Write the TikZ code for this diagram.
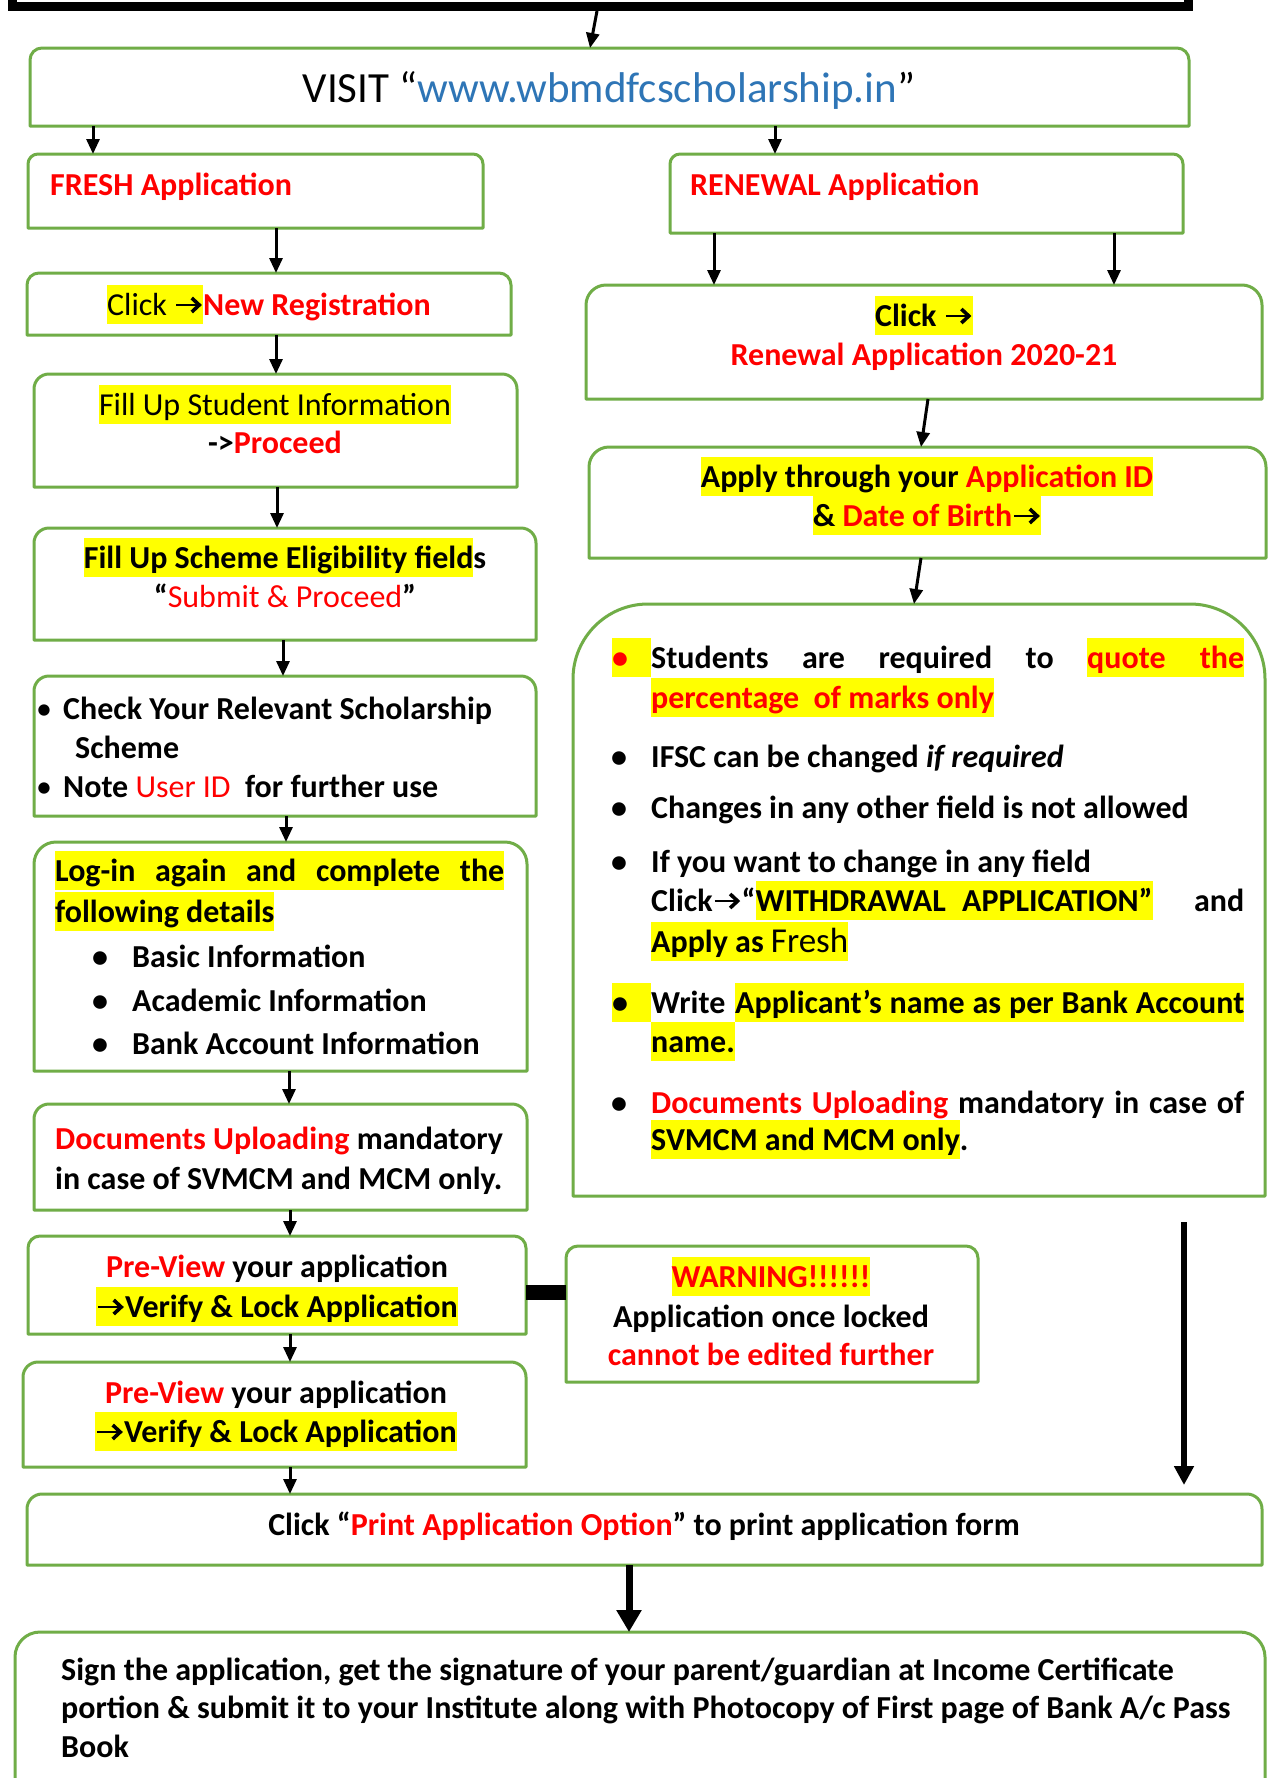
\documentclass[tikz,border=0pt]{standalone}
\usepackage{fontspec}
\setmainfont{Carlito}
\usetikzlibrary{arrows.meta,calc}
\definecolor{bgreen}{HTML}{70AD47}
\definecolor{hred}{HTML}{FF0000}
\definecolor{ublue}{HTML}{2E75B6}
\definecolor{hyel}{HTML}{FFFF00}
\newcommand\hl[1]{{\setlength{\fboxsep}{0pt}\colorbox{hyel}{\rule[-9pt]{0pt}{39pt}#1}}}
\newcommand\arr{\tikz[baseline=0pt,x=1pt,y=1pt,line cap=butt]{%
  \path (0,0) (29,0);
  \draw[line width=2.8pt] (2,10) -- (24,10);
  \draw[line width=3.6pt, line join=miter] (17.5,3) -- (25,10) -- (17.5,17);}}
\newcommand\flowbox[6]{%
  \node[boxn, minimum width={#4-#2}, minimum height={#5-#3}] (#1) at ({(#2+#4)/2},{-(#3+#5)/2}) {};
  \draw[boxline] (#1.south west) -- ([yshift=-#6pt]#1.north west)
    arc[start angle=180, end angle=90, radius=#6pt] -- ([xshift=-#6pt]#1.north east)
    arc[start angle=90, end angle=0, radius=#6pt] -- (#1.south east) -- cycle;}
\tikzset{
  boxn/.style={draw=none, inner sep=0pt, outer sep=0pt},
  boxline/.style={draw=bgreen, line width=3pt, line join=round},
  txt/.style={inner sep=0pt, anchor=base, font=\fontsize{32pt}{39pt}\selectfont\bfseries},
  txtl/.style={txt, anchor=base west},
  arrow/.style={-{Triangle[length=15pt,width=13pt]}, line width=3pt},
  bigarrow/.style={-{Triangle[length=19pt,width=19pt]}, line width=6pt},
  hugearrow/.style={-{Triangle[length=22pt,width=24pt]}, line width=7pt},
  linkbar/.style={line width=15pt},
}
\begin{document}
\begin{tikzpicture}[x=1pt,y=1pt]
\useasboundingbox (0,0) rectangle (1271,-1778);
\fill[white] (0,0) rectangle (1271,-1778);
% top frame
\node[draw=black, line width=9pt, minimum width=1176pt, minimum height=60pt, inner sep=0pt, outer sep=0pt, anchor=south] (topbox) at (600.5,-6.5) {};
% boxes
\flowbox{visit}{30}{48}{1189}{126}{12}
\flowbox{fresh}{28}{154}{483}{228}{10}
\flowbox{renew}{670}{154}{1183}{233}{10}
\flowbox{newreg}{27}{273}{511}{335}{12}
\flowbox{student}{34}{374}{517}{487}{15}
\flowbox{scheme}{34}{528}{536}{640}{15}
\flowbox{check}{34}{676}{536}{816}{15}
\flowbox{login}{34}{842}{527}{1071}{22}
\flowbox{docs}{34}{1104}{527}{1210}{15}
\flowbox{pv1}{28}{1236}{526}{1334}{12}
\flowbox{warn}{566}{1246}{978}{1382}{12}
\flowbox{pv2}{23}{1362}{526}{1467}{15}
\flowbox{print}{27}{1494}{1262}{1565}{15}
\flowbox{final}{15}{1632}{1265}{1820}{25}
\flowbox{rclick}{586}{285}{1262}{399}{20}
\flowbox{apply}{589}{447}{1266}{558}{20}
\flowbox{bigbox}{573}{604}{1265}{1196}{75}
% texts
\node[txt, font=\fontsize{43pt}{50pt}\selectfont] (tvisit) at (609,-102) {VISIT “\textcolor{ublue}{www.wbmdfcscholarship.in}”};
\node[txtl] (tfresh) at (50,-195) {\textcolor{hred}{FRESH Application}};
\node[txtl] (trenew) at (690,-195) {\textcolor{hred}{RENEWAL Application}};
\node[txt] (tnewreg) at (269,-315) {\hl{\mdseries Click \arr}\textcolor{hred}{New Registration}};
\node[txt] (tstu1) at (275,-415) {\hl{\mdseries Fill Up Student Information}};
\node[txt] (tstu2) at (275,-453) {->\textcolor{hred}{Proceed}};
\node[txt] (tsch1) at (285,-568) {\hl{Fill Up Scheme Eligibility field}s};
\node[txt] (tsch2) at (285,-607) {“\textcolor{hred}{\mdseries Submit \& Proceed}”};
\node[txt] (bc1) at (44,-719) {\mdseries •};
\node[txtl] (tc1) at (63,-719) {Check Your Relevant Scholarship};
\node[txtl] (tc2) at (75,-758) {Scheme};
\node[txt] (bc2) at (44,-797) {\mdseries •};
\node[txtl] (tc3) at (63,-797) {Note \textcolor{hred}{\mdseries User ID}\ \ for further use};
\node[txtl] (tl1) at (55,-881) {\hl{\makebox[449pt][s]{Log-in again and complete the}}};
\node[txtl] (tl2) at (55,-922) {\hl{following details}};
\node[txt] (bl1) at (100,-967) {•};
\node[txtl] (tl3) at (132,-967) {Basic Information};
\node[txt] (bl2) at (100,-1011) {•};
\node[txtl] (tl4) at (132,-1011) {Academic Information};
\node[txt] (bl3) at (100,-1054) {•};
\node[txtl] (tl5) at (132,-1054) {Bank Account Information};
\node[txtl] (td1) at (55,-1149) {\textcolor{hred}{Documents Uploading} mandatory};
\node[txtl] (td2) at (55,-1189) {in case of SVMCM and MCM only.};
\node[txt] (tp1) at (277,-1277) {\textcolor{hred}{Pre-View} your application};
\node[txt] (tp2) at (277,-1317) {\hl{\arr Verify \& Lock Application}};
\node[txt] (tq1) at (276,-1403) {\textcolor{hred}{Pre-View} your application};
\node[txt] (tq2) at (276,-1442) {\hl{\arr Verify \& Lock Application}};
\node[txt] (tw1) at (771,-1287) {\hl{\textcolor{hred}{WARNING!!!!!!}}};
\node[txt] (tw2) at (771,-1327) {Application once locked};
\node[txt] (tw3) at (771,-1365) {\textcolor{hred}{cannot be edited further}};
\node[txt] (tpr) at (644,-1535) {Click “\textcolor{hred}{Print Application Option}” to print application form};
\node[txtl] (tf1) at (61,-1680) {Sign the application, get the signature of your parent/guardian at Income Certificate};
\node[txtl] (tf2) at (61,-1718) {portion \& submit it to your Institute along with Photocopy of First page of Bank A/c Pass};
\node[txtl] (tf3) at (61,-1757) {Book};
\node[txt] (trc1) at (924,-326) {\hl{Click \arr}};
\node[txt] (trc2) at (924,-365) {\textcolor{hred}{Renewal Application 2020-21}};
\node[txt] (ta1) at (927,-487) {\hl{Apply through your \textcolor{hred}{Application ID}}};
\node[txt] (ta2) at (927,-526) {\hl{\& \textcolor{hred}{Date of Birth}\arr}};
\node[txtl] (bb1) at (612,-668) {\hl{\makebox[39pt][l]{\textcolor{hred}{•}}}};
\node[txtl] (tb1) at (651,-668) {\makebox[593pt][s]{Students are required to \hl{\makebox[157pt][s]{\textcolor{hred}{quote the}}}}};
\node[txtl] (tb2) at (651,-708) {\hl{\textcolor{hred}{percentage\ \ of marks only}}};
\node[txt] (bb2) at (619,-767) {•};
\node[txtl] (tb3) at (651,-767) {IFSC can be changed \textit{if required}};
\node[txt] (bb3) at (619,-818) {•};
\node[txtl] (tb4) at (651,-818) {Changes in any other field is not allowed};
\node[txt] (bb4) at (619,-872) {•};
\node[txtl] (tb5) at (651,-872) {If you want to change in any field};
\node[txtl] (tb6) at (651,-911) {\makebox[593pt][s]{Click\arr“\hl{\makebox[397pt][s]{WITHDRAWAL APPLICATION”}} and}};
\node[txtl] (tb7) at (651,-952) {\hl{Apply as {\mdseries\fontsize{35pt}{39pt}\selectfont Fresh}}};
\node[txtl] (bb5) at (612,-1013) {\hl{\makebox[39pt][l]{•}}};
\node[txtl] (tb8) at (651,-1013) {\makebox[593pt][s]{Write \hl{\makebox[509pt][s]{Applicant’s name as per Bank Account}}}};
\node[txtl] (tb9) at (651,-1052) {\hl{name.}};
\node[txt] (bb6) at (619,-1113) {•};
\node[txtl] (tb10) at (651,-1113) {\makebox[593pt][s]{\textcolor{hred}{Documents Uploading} mandatory in case of}};
\node[txtl] (tb11) at (651,-1150) {\hl{SVMCM and MCM only}.};
% connectors
\draw[arrow] ($(topbox.south)+(-3.5,-4.5)$) -- ($(visit.north west)+(560,0)$);
\draw[arrow] ($(visit.south west)+(63,0)$) -- ($(fresh.north west)+(65,0)$);
\draw[arrow] ($(visit.south west)+(745,0)$) -- ($(renew.north west)+(105,0)$);
\draw[arrow] ($(fresh.south west)+(248,0)$) -- ($(newreg.north west)+(249,0)$);
\draw[arrow] ($(renew.south west)+(44,0)$) -- ($(rclick.north west)+(128,0)$);
\draw[arrow] ($(renew.south west)+(444,0)$) -- ($(rclick.north west)+(528,0)$);
\draw[arrow] ($(newreg.south west)+(249,0)$) -- ($(student.north west)+(242,0)$);
\draw[arrow] ($(student.south west)+(243,0)$) -- ($(scheme.north west)+(243,0)$);
\draw[arrow] ($(scheme.south west)+(249,0)$) -- ($(check.north west)+(249,0)$);
\draw[arrow] ($(check.south west)+(252,0)$) -- ($(login.north west)+(252,0)$);
\draw[arrow] ($(login.south west)+(255,0)$) -- ($(docs.north west)+(255,0)$);
\draw[arrow] ($(docs.south west)+(256,0)$) -- ($(pv1.north west)+(262,0)$);
\draw[arrow] ($(pv1.south west)+(262,0)$) -- ($(pv2.north west)+(267,0)$);
\draw[arrow] ($(pv2.south west)+(267,0)$) -- ($(print.north west)+(263,0)$);
\draw[arrow] ($(rclick.south west)+(342,0)$) -- ($(apply.north west)+(332,0)$);
\draw[arrow] ($(apply.south west)+(332,0)$) -- ($(bigbox.north west)+(341,0)$);
\draw[linkbar] ([yshift=-7pt]pv1.east) -- ([yshift=-7pt]pv1.east -| warn.west);
\coordinate (rstart) at ($(bigbox.south east)+(-81,-26)$);
\draw[bigarrow] (rstart) -- ($(print.north west)+(1157,9)$);
\draw[hugearrow] ($(print.south west)+(602,0)$) -- ($(final.north west)+(614,0)$);
\end{tikzpicture}
\end{document}
